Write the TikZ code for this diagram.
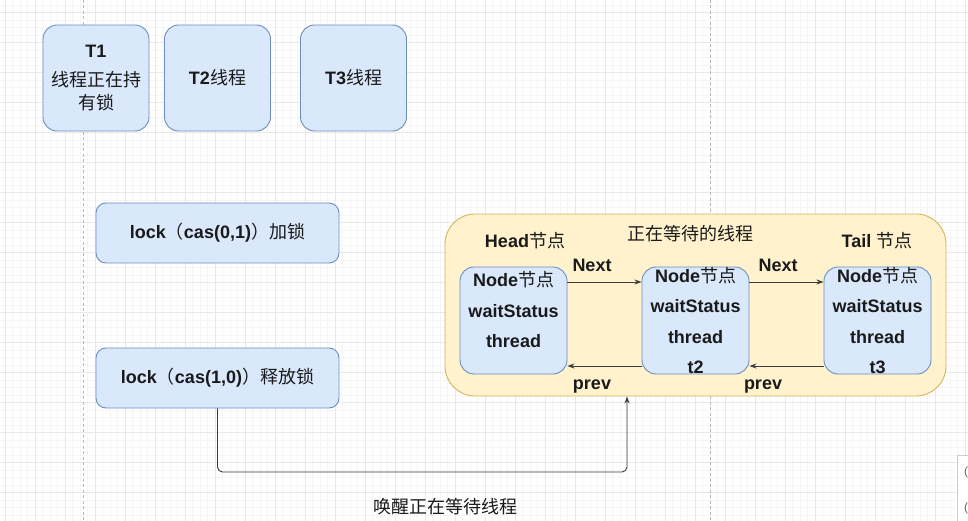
\documentclass[tikz,border=0pt]{standalone}
\usepackage{fontspec}
\setmainfont{Liberation Sans}
\newfontfamily\cjk{Noto Sans CJK SC}
\usetikzlibrary{arrows.meta}
\definecolor{bfill}{HTML}{DAE8FC}
\definecolor{bdraw}{HTML}{6C8EBF}
\definecolor{yfill}{HTML}{FFF2CC}
\definecolor{ydraw}{HTML}{D6B656}
\definecolor{txt}{HTML}{1A1A1A}
\definecolor{gminor}{HTML}{F5F5F5}
\definecolor{gmajor}{HTML}{E9E9E9}
\begin{document}
\begin{tikzpicture}[x=1pt,y=-1pt,
  bluebox/.style={draw=bdraw, fill=bfill, rounded corners=14pt, line width=0.9pt, inner sep=0pt, text=txt},
  sqbox/.style={bluebox, minimum width=106pt, minimum height=106pt},
  lockbox/.style={bluebox, rounded corners=10pt, minimum width=243pt, minimum height=60pt, font=\fontsize{18}{22}\selectfont\bfseries},
  qnode/.style={bluebox, minimum width=107pt, minimum height=107pt},
  qtext/.style={align=center, text=txt, inner sep=0pt, font=\fontsize{18}{30.5}\selectfont\bfseries},
  lbl/.style={text=txt, inner sep=0pt, font=\fontsize{18}{22}\selectfont\bfseries},
  conn/.style={draw=txt!85, line width=0.9pt, -{Stealth[length=7pt,width=5pt]}},
  pageline/.style={draw=black!28, line width=1pt, dash pattern=on 3pt off 2.5pt}
]
\useasboundingbox (0,0) rectangle (968,521);
\fill[white] (0,0) rectangle (968,521);
% grid
\foreach \i in {0,...,130} {\draw[gminor, line width=0.6pt] ({-2.5+7.5*\i},0) -- ({-2.5+7.5*\i},521);}
\foreach \i in {0,...,70} {\draw[gminor, line width=0.6pt] (0,{5+7.5*\i}) -- (968,{5+7.5*\i});}
\foreach \i in {0,...,32} {\draw[gmajor, line width=0.7pt] ({5+30*\i},0) -- ({5+30*\i},521);}
\foreach \i in {0,...,17} {\draw[gmajor, line width=0.7pt] (0,{12.5+30*\i}) -- (968,{12.5+30*\i});}
\draw[pageline] (83,0) -- (83,521);
\draw[pageline] (710.5,0) -- (710.5,521);

% thread boxes
\node[sqbox, align=center, font=\fontsize{18}{23}\selectfont] (t1) at (96,78) {\textbf{T1}\\[6pt]{\cjk 线程正在持}\\{\cjk 有锁}};
\node[sqbox, font=\fontsize{18}{22}\selectfont] (t2) at (217.5,78) {\textbf{T2}{\cjk 线程}};
\node[sqbox, font=\fontsize{18}{22}\selectfont] (t3) at (353.5,78) {\textbf{T3}{\cjk 线程}};

% lock boxes
\node[lockbox] (lk1) at (217.5,233) {lock{\cjk\mdseries （}cas(0,1){\cjk\mdseries ）加锁}};
\node[lockbox] (lk2) at (217.5,378) {lock{\cjk\mdseries （}cas(1,0){\cjk\mdseries ）释放锁}};

% waiting queue container
\node[draw=ydraw, fill=yfill, rounded corners=30pt, line width=0.9pt, minimum width=501pt, minimum height=182pt, inner sep=0pt] (yel) at (695.5,305) {};
\node[lbl, font=\fontsize{18}{22}\selectfont\mdseries\cjk] (title) at (690,234) {正在等待的线程};
\node[lbl] (headlbl) at (525,241) {Head{\cjk\mdseries 节点}};
\node[lbl] (taillbl) at (877,241) {Tail {\cjk\mdseries 节点}};

\node[qnode] (n1) at (513.5,320.5) {};
\node[qnode] (n2) at (695.5,320.5) {};
\node[qnode] (n3) at (877.5,320.5) {};
\node[qtext] (n1t) at (513.5,310) {Node{\cjk\mdseries 节点}\\waitStatus\\thread};
\node[qtext] (n2t) at (695.5,320.5) {Node{\cjk\mdseries 节点}\\waitStatus\\thread\\t2};
\node[qtext] (n3t) at (877.5,320.5) {Node{\cjk\mdseries 节点}\\waitStatus\\thread\\t3};

\draw[conn] ([yshift=38.5pt]n1.east) -- ([yshift=38.5pt]n2.west);
\draw[conn] ([yshift=38.5pt]n2.east) -- ([yshift=38.5pt]n3.west);
\draw[conn] ([yshift=-45.5pt]n2.west) -- ([yshift=-45.5pt]n1.east);
\draw[conn] ([yshift=-45.5pt]n3.west) -- ([yshift=-45.5pt]n2.east);
\node[lbl] (nx1) at (592,265) {Next};
\node[lbl] (nx2) at (778,265) {Next};
\node[lbl] (pv1) at (592,387) {prev};
\node[lbl] (pv2) at (763,387) {prev};

% wake-up connector
\coordinate (wk) at (627,472);
\draw[conn, rounded corners=5pt] (lk2.south) -- (lk2.south |- wk) -- (wk) -- (wk |- yel.south);
\node[lbl, font=\fontsize{18}{22}\selectfont\mdseries\cjk] (wake) at (445,507) {唤醒正在等待线程};

% cut-off panel at bottom right
\draw[draw=black!20, fill=white, line width=0.8pt] (957.5,455) -- (957.5,530) (957.5,455) -- (975,455);
\fill[white] (958,455.5) rectangle (975,530);
\node[text=black!60, font=\fontsize{12}{14}\selectfont, inner sep=0pt] (c1) at (966,472) {(};
\node[text=black!60, font=\fontsize{12}{14}\selectfont, inner sep=0pt] (c2) at (966,508) {(};
\end{tikzpicture}
\end{document}
